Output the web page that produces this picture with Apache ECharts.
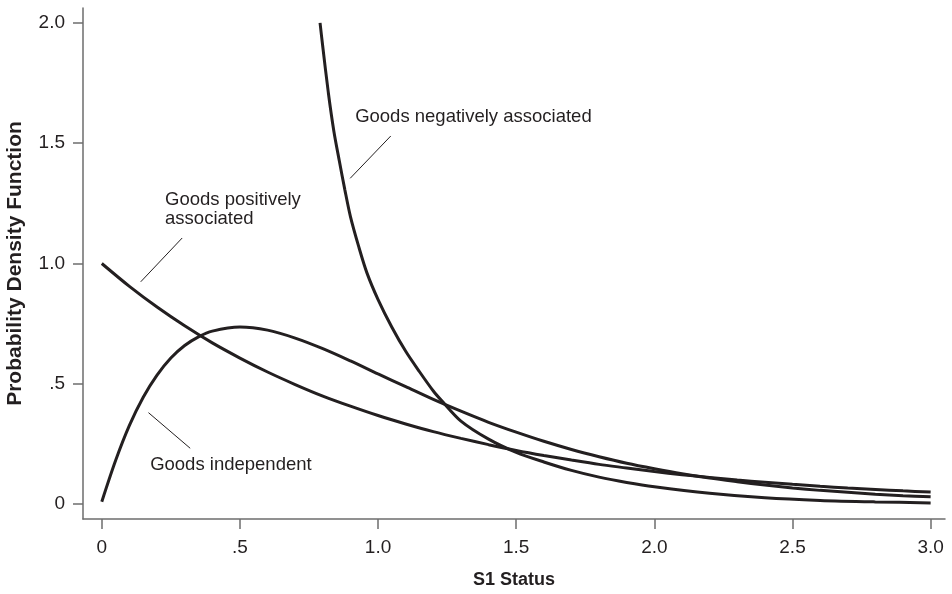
<!DOCTYPE html>
<html>
<head>
<meta charset="utf-8">
<script src="https://cdn.jsdelivr.net/npm/echarts@6/dist/echarts.min.js"></script>
<style>
html,body{margin:0;padding:0;background:#fff;}
#chart{width:952px;height:594px;}
</style>
</head>
<body>
<div id="chart"></div>
<script>
// ---- data ----
const xTicks = [0, 0.5, 1.0, 1.5, 2.0, 2.5, 3.0];
const xTickLabels = ['0', '.5', '1.0', '1.5', '2.0', '2.5', '3.0'];
const yTicks = [0, 0.5, 1.0, 1.5, 2.0];
const yTickLabels = ['0', '.5', '1.0', '1.5', '2.0'];

const posX = [0, 0.1, 0.2, 0.3, 0.4, 0.5, 0.6, 0.7, 0.8, 0.9, 1.0, 1.1, 1.2, 1.3, 1.4, 1.5, 1.6, 1.7, 1.8, 1.9, 2.0, 2.1, 2.2, 2.3, 2.4, 2.5, 2.6, 2.7, 2.8, 2.9, 3.0];
const posY = [1.000, 0.905, 0.819, 0.741, 0.670, 0.607, 0.549, 0.497, 0.449, 0.407, 0.368, 0.333, 0.301, 0.273, 0.247, 0.223, 0.202, 0.183, 0.165, 0.150, 0.135, 0.122, 0.111, 0.100, 0.091, 0.082, 0.074, 0.067, 0.061, 0.055, 0.050];

const indX = [0, 0.05, 0.1, 0.15, 0.2, 0.25, 0.3, 0.35, 0.4, 0.5, 0.6, 0.7, 0.8, 0.9, 1.0, 1.1, 1.2, 1.3, 1.4, 1.5, 1.6, 1.7, 1.8, 1.9, 2.0, 2.1, 2.2, 2.3, 2.4, 2.5, 2.6, 2.7, 2.8, 2.9, 3.0];
const indY = [0.010, 0.181, 0.327, 0.444, 0.536, 0.607, 0.659, 0.695, 0.719, 0.736, 0.723, 0.690, 0.646, 0.595, 0.541, 0.488, 0.435, 0.386, 0.340, 0.299, 0.261, 0.227, 0.197, 0.170, 0.147, 0.126, 0.108, 0.093, 0.079, 0.067, 0.057, 0.049, 0.041, 0.035, 0.030];

const negX = [0.79, 0.80, 0.82, 0.84, 0.86, 0.88, 0.90, 0.93, 0.96, 1.00, 1.05, 1.10, 1.15, 1.20, 1.23, 1.30, 1.40, 1.50, 1.60, 1.70, 1.80, 1.90, 2.00, 2.20, 2.40, 2.60, 2.80, 3.00];
const negY = [2.00, 1.90, 1.71, 1.55, 1.425, 1.305, 1.195, 1.07, 0.96, 0.85, 0.735, 0.635, 0.55, 0.47, 0.43, 0.345, 0.27, 0.215, 0.175, 0.14, 0.112, 0.09, 0.072, 0.045, 0.026, 0.015, 0.009, 0.005];

const labelTexts = ['Goods negatively associated', 'Goods positively\nassociated', 'Goods independent'];
const labelAnchors = [[0.917, 1.609], [0.229, 1.224], [0.175, 0.162]];
const pointerLines = [
  [[0.899, 1.354], [1.046, 1.530]],
  [[0.141, 0.924], [0.291, 1.106]],
  [[0.169, 0.380], [0.320, 0.232]]
];

const zip = (xs, ys) => xs.map((x, i) => [x, ys[i]]);
const fmt = (vals, labels) => v => {
  const i = vals.findIndex(t => Math.abs(t - v) < 1e-9);
  return i >= 0 ? labels[i] : '';
};

const FONT = '"Liberation Sans", Arial, Helvetica, sans-serif';
const INK = '#231f20';
const AXIS = '#6d6d6d';

const lineStyle = {color: INK, width: 3};
const curve = (name, data) => ({
  name, type: 'line', data, showSymbol: false, symbol: 'none',
  smooth: 0.3, lineStyle, silent: true, z: 3
});

const chart = echarts.init(document.getElementById('chart'), null, {renderer: 'canvas'});
chart.setOption({
  backgroundColor: '#fff',
  animation: false,
  grid: {left: 83, right: 7, top: 8, bottom: 75, containLabel: false, outerBoundsMode: 'none'},
  xAxis: {
    type: 'value', min: -0.068, max: 3.052,
    name: 'S1 Status', nameLocation: 'middle', nameGap: 52,
    nameTextStyle: {fontFamily: FONT, fontSize: 18, fontWeight: 'bold', color: INK},
    axisLine: {show: true, onZero: false, lineStyle: {color: AXIS, width: 1.5}},
    axisTick: {show: true, length: 10, lineStyle: {color: AXIS, width: 1.5}, customValues: xTicks},
    axisLabel: {fontFamily: FONT, fontSize: 19, color: INK, margin: 19, customValues: xTicks, formatter: fmt(xTicks, xTickLabels)},
    splitLine: {show: false}
  },
  yAxis: {
    type: 'value', min: -0.062, max: 2.062,
    name: 'Probability Density Function', nameLocation: 'middle', nameGap: 57, nameRotate: 90,
    nameTextStyle: {fontFamily: FONT, fontSize: 21, fontWeight: 'bold', color: INK},
    axisLine: {show: true, onZero: false, lineStyle: {color: AXIS, width: 1.5}},
    axisTick: {show: true, length: 10, lineStyle: {color: AXIS, width: 1.5}, customValues: yTicks},
    axisLabel: {fontFamily: FONT, fontSize: 19, color: INK, margin: 18, customValues: yTicks, formatter: fmt(yTicks, yTickLabels)},
    splitLine: {show: false}
  },
  series: [
    curve('Goods positively associated', zip(posX, posY)),
    curve('Goods independent', zip(indX, indY)),
    curve('Goods negatively associated', zip(negX, negY)),
    {
      name: 'pointers', type: 'line', data: [], silent: true,
      markLine: {
        silent: true, symbol: ['none', 'none'], animation: false,
        lineStyle: {color: INK, width: 1, type: 'solid', opacity: 1},
        label: {show: false},
        data: pointerLines.map(seg => [{coord: seg[0]}, {coord: seg[1]}])
      }
    },
    {
      name: 'labels', type: 'scatter', symbolSize: 0, silent: true,
      itemStyle: {opacity: 1},
      data: labelAnchors.map((a, i) => ({value: a, text: labelTexts[i]})),
      label: {
        show: true, position: [0, 0], align: 'left', verticalAlign: 'middle',
        fontFamily: FONT, fontSize: 18.5, color: INK, opacity: 1, lineHeight: 19,
        formatter: p => p.data.text
      }
    }
  ]
});
</script>
</body>
</html>
